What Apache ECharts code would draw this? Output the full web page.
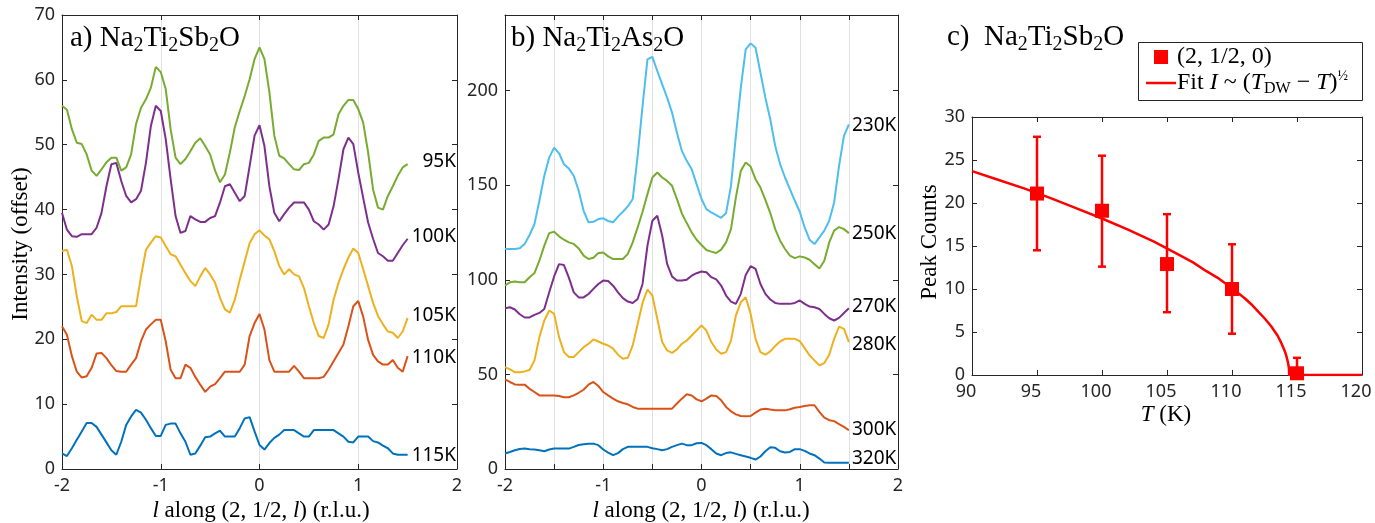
<!DOCTYPE html>
<html><head><meta charset="utf-8">
<script src="https://cdn.jsdelivr.net/npm/echarts@6/dist/echarts.min.js"></script>
<style>html,body{margin:0;padding:0;background:#fff}#c{width:1375px;height:523px}</style>
</head><body><div id="c"></div>
<script>
// ---------- DATA ----------
const lValues = [-2,-1.95,-1.9,-1.85,-1.8,-1.75,-1.7,-1.65,-1.6,-1.55,-1.5,-1.45,-1.4,-1.35,-1.3,-1.25,-1.2,-1.15,-1.1,-1.05,-1,-0.95,-0.9,-0.85,-0.8,-0.75,-0.7,-0.65,-0.6,-0.55,-0.5,-0.45,-0.4,-0.35,-0.3,-0.25,-0.2,-0.15,-0.1,-0.05,0,0.05,0.1,0.15,0.2,0.25,0.3,0.35,0.4,0.45,0.5,0.55,0.6,0.65,0.7,0.75,0.8,0.85,0.9,0.95,1,1.05,1.1,1.15,1.2,1.25,1.3,1.35,1.4,1.45,1.5];

// Panel a) Na2Ti2Sb2O (offset intensities)
const sb95K  = [56.0,55.4,52.4,50.3,50.1,48.5,46.0,45.2,46.2,47.3,48.0,48.0,46.0,46.5,48.5,53.2,55.7,57.0,58.8,62.0,61.2,58.6,52.4,48.0,47.0,47.8,49.0,50.3,51.0,49.8,48.5,46.0,44.2,45.4,48.8,52.7,55.2,57.5,60.1,63.2,65.0,63.2,58.1,51.4,48.3,47.9,47.0,46.2,46.1,47.0,47.2,48.5,50.6,51.1,51.1,51.6,54.7,56.0,56.9,56.9,55.5,53.4,48.8,43.1,40.3,40.0,42.1,43.6,45.2,46.5,47.0];
const sb100K = [39.5,36.9,35.9,35.8,36.2,36.2,36.2,37.2,39.5,43.6,47.0,47.2,44.4,42.1,41.1,41.6,42.9,47.2,52.9,56.0,55.2,50.9,44.7,39.0,36.4,36.7,39.0,38.5,38.1,38.1,38.7,39.0,41.1,43.6,43.9,42.6,41.3,42.1,46.7,51.4,53.0,49.8,43.6,39.5,38.2,39.3,40.3,41.1,41.1,41.1,40.0,38.2,37.7,36.9,37.7,40.5,44.7,49.3,51.1,50.1,45.7,41.8,38.0,35.5,33.3,32.8,32.1,32.1,33.3,34.5,35.5];
const sb105K = [33.6,33.8,31.3,26.6,22.8,22.5,23.8,23.0,23.0,24.0,24.0,24.2,25.1,25.1,25.1,25.1,29.7,33.8,34.9,35.9,35.7,34.4,33.1,32.8,31.5,30.2,29.0,28.2,29.7,31.0,30.0,28.7,26.4,24.6,24.1,26.1,29.2,32.0,34.8,36.2,36.8,36.0,35.4,33.6,31.3,30.0,30.8,30.0,29.7,27.9,25.1,22.5,20.5,20.2,22.3,26.1,28.7,30.8,32.6,34.0,33.3,30.8,28.2,25.6,23.6,22.3,21.2,21.0,20.2,21.2,23.3];
const sb110K = [22.0,20.7,17.4,15.0,14.1,14.3,15.6,17.8,17.9,17.1,16.0,15.1,15.0,15.0,16.1,17.1,19.7,21.5,22.3,23.0,23.0,19.7,15.3,14.0,14.0,16.1,15.6,14.2,13.0,11.9,12.7,13.1,14.0,15.0,15.0,15.0,15.0,16.1,20.5,22.5,23.9,21.5,16.8,15.0,15.0,15.0,15.0,15.9,15.0,14.0,14.0,14.0,14.0,14.2,15.3,16.6,17.9,19.2,22.0,25.1,25.9,23.5,19.9,17.6,16.6,16.1,16.1,16.8,15.6,15.0,17.4];
const sb115K = [2.4,2.0,3.2,4.5,5.8,7.1,7.1,6.5,5.3,4.1,2.9,2.2,4.2,6.8,8.1,9.1,8.7,7.6,6.3,5.1,5.1,6.8,7.0,7.0,5.5,4.2,2.2,2.4,3.6,4.9,5.0,5.5,5.9,5.0,5.0,5.0,6.3,7.8,8.0,5.8,3.7,3.0,4.0,4.8,5.3,6.0,6.0,6.0,5.5,5.0,5.0,6.0,6.0,6.0,6.0,6.0,5.5,5.0,4.2,4.1,5.0,5.0,5.0,4.3,4.1,3.6,3.2,2.4,2.2,2.2,2.2];

// Panel b) Na2Ti2As2O (offset intensities)
const as230K = [116.3,116.3,116.3,116.7,119.0,123.7,129.5,141.8,155.0,164.6,169.9,166.9,161.1,158.8,155.0,147.1,136.5,130.4,130.7,132.1,132.5,131.1,130.4,133.4,136.0,138.8,142.7,165.5,191.9,216.5,217.9,210.4,203.3,196.3,188.4,177.8,168.2,162.9,158.5,150.6,142.7,137.4,135.6,134.2,132.8,135.3,149.7,176.1,201.6,221.8,225.0,222.7,209.5,196.3,184.9,170.8,161.2,154.1,148.0,141.8,136.0,127.7,121.2,118.9,122.4,126.0,131.2,140.9,160.2,176.1,182.2];
const as250K = [97.0,98.7,99.1,98.7,98.7,101.4,103.6,110.1,118.1,124.7,125.4,123.0,121.2,119.8,119.0,116.6,112.8,111.0,111.7,114.2,114.5,112.4,111.0,111.0,111.0,113.7,119.8,127.7,136.0,145.3,154.1,156.7,154.1,152.3,149.7,142.7,135.1,130.0,125.1,121.2,118.4,115.8,114.9,114.2,116.0,119.8,126.8,143.6,157.6,162.0,159.9,153.2,148.8,142.3,135.3,126.8,120.7,116.3,112.8,111.5,112.4,111.8,110.6,108.3,106.0,110.1,119.8,126.0,127.9,126.8,124.7];
const as270K = [85.0,85.5,84.3,81.8,80.1,80.1,81.5,82.5,84.6,93.4,101.8,108.3,107.8,101.2,93.4,90.7,90.7,92.5,95.2,97.8,99.6,99.4,96.9,93.4,90.3,88.5,87.8,89.9,97.8,118.1,131.2,133.9,123.3,108.4,101.8,99.6,99.6,100.1,102.2,103.5,104.4,104.0,101.4,100.2,97.0,91.7,88.5,87.3,92.6,102.6,107.2,105.8,97.8,92.6,89.6,87.8,87.3,87.3,87.3,87.8,89.1,87.3,85.9,85.5,84.6,82.0,79.7,78.5,79.9,82.5,85.0];
const as280K = [53.9,52.7,51.2,51.2,51.6,52.3,57.4,69.7,78.5,83.8,82.0,69.7,61.8,59.2,59.2,61.8,64.4,66.2,68.5,67.4,66.2,65.3,63.6,60.4,58.3,58.8,65.3,76.7,87.8,94.9,91.7,79.4,67.1,62.7,61.4,63.2,66.2,67.9,70.6,73.2,75.9,73.2,67.1,63.2,60.9,61.8,67.9,81.2,88.1,90.8,82.0,68.8,61.8,60.4,62.2,65.0,67.4,68.8,68.8,68.8,67.6,63.9,60.1,57.4,54.8,56.0,60.4,68.8,75.3,74.1,67.1];
const as300K = [47.4,46.0,44.7,44.6,44.6,42.4,40.7,38.9,38.9,38.9,38.9,38.6,37.9,37.9,38.9,40.3,41.9,44.6,46.0,43.9,40.7,38.9,37.2,35.8,34.9,34.2,32.8,31.9,31.9,31.9,31.9,31.9,31.9,31.9,31.9,34.6,37.2,39.5,38.9,36.8,35.8,37.2,38.9,38.6,36.3,32.8,30.5,28.9,28.0,27.9,28.0,29.8,31.4,31.9,31.4,31.0,31.0,31.0,31.6,32.4,32.8,33.3,33.7,33.7,30.2,27.2,25.8,25.3,23.7,22.3,20.5];
const as320K = [8.2,9.0,9.9,10.6,10.8,10.5,10.3,9.9,9.4,10.3,10.8,10.8,10.8,10.8,11.7,12.7,13.1,13.4,13.4,12.6,10.3,8.7,7.3,8.4,10.5,11.7,11.7,11.7,11.7,11.7,11.0,10.5,9.9,10.5,11.7,12.6,13.4,12.6,12.6,13.6,13.8,12.6,10.5,8.2,7.3,8.4,8.8,8.0,7.3,6.6,5.9,5.0,6.6,9.4,11.5,11.2,9.4,8.7,9.0,10.5,10.5,9.6,8.2,7.3,5.5,3.4,3.3,3.3,3.3,3.3,3.3];

// Panel c) peak counts vs temperature
const tempK      = [95, 100, 105, 110, 115];
const peakCounts = [21.1, 19.1, 12.9, 10.0, 0.2];
const errLow     = [14.5, 12.6, 7.3, 4.8, -1.6];
const errHigh    = [27.7, 25.5, 18.7, 15.2, 2.0];
const fitT = [90, 92, 94, 96, 98, 100, 102, 104, 106, 107, 108, 109, 110, 111, 111.5, 112, 112.5, 113, 113.5, 113.8, 114, 114.1, 114.2, 114.3, 114.35, 114.38, 114.4, 120];
const fitI = [23.7, 22.7, 21.7, 20.6, 19.4, 18.2, 16.9, 15.5, 13.9, 13.1, 12.1, 11.2, 10.1, 8.9, 8.2, 7.4, 6.6, 5.7, 4.6, 3.7, 3.0, 2.6, 2.1, 1.5, 1.1, 0.7, 0, 0];

const labelsA = ['95K', '100K', '105K', '110K', '115K'];
const labelsB = ['230K', '250K', '270K', '280K', '300K', '320K'];

// ---------- STYLE ----------
const SERIF = '"Liberation Serif", "Times New Roman", serif';
const SANS = '"Noto Sans", "Open Sans", sans-serif';
const AX = '#262626';
const GRIDC = '#e0e0e0';
const RED = '#ff0000';
const C = {blue:'#0072BD', orange:'#D95319', yellow:'#EDB120', purple:'#7E2F8E', green:'#77AC30', cyan:'#4DBEEE'};

const rich = {
  m: {fontFamily: SERIF, fontSize: 29, lineHeight: 36, color: '#000'},
  s: {fontFamily: SERIF, fontSize: 20, lineHeight: 20, verticalAlign: 'bottom', color: '#000'},
  n: {fontFamily: SERIF, fontSize: 23, lineHeight: 28, color: '#000'},
  i: {fontFamily: SERIF, fontSize: 23, lineHeight: 28, fontStyle: 'italic', color: '#000'},
  ln: {fontFamily: SERIF, fontSize: 24, lineHeight: 28, color: '#000'},
  li: {fontFamily: SERIF, fontSize: 24, lineHeight: 28, fontStyle: 'italic', color: '#000'},
  d: {fontFamily: SERIF, fontSize: 16, lineHeight: 16, verticalAlign: 'bottom', color: '#000'},
  p: {fontFamily: SERIF, fontSize: 14, lineHeight: 14, verticalAlign: 'top', color: '#000'}
};

const isInt = v => Math.abs(v - Math.round(v)) < 1e-6;

function boxAxes(gi, x, y) {
  const tick = {show: true, inside: true, length: 5, lineStyle: {color: AX, width: 1}};
  const line = {show: true, onZero: false, lineStyle: {color: AX, width: 1}};
  const lbl = {color: AX, fontFamily: SANS, fontSize: 18};
  const xa = [
    {type: 'value', gridIndex: gi, position: 'bottom', min: x.min, max: x.max, interval: x.interval,
     axisLine: line, axisTick: tick,
     axisLabel: Object.assign({show: true, margin: 8, showMaxLabel: x.showMax !== false, padding: x.pad || 0, formatter: x.fmt || (v => String(v))}, lbl),
     splitLine: {show: !!x.split, lineStyle: {color: GRIDC, width: 1}}},
    {type: 'value', gridIndex: gi, position: 'top', min: x.min, max: x.max, interval: x.interval,
     axisLine: line, axisTick: tick, axisLabel: {show: false}, splitLine: {show: false}}
  ];
  const ya = [
    {type: 'value', gridIndex: gi, position: 'left', min: y.min, max: y.max, interval: y.interval,
     axisLine: line, axisTick: tick,
     axisLabel: Object.assign({show: true, margin: 7, showMaxLabel: y.showMax !== false}, lbl),
     splitLine: {show: false}},
    {type: 'value', gridIndex: gi, position: 'right', min: y.min, max: y.max, interval: y.interval,
     axisLine: line, axisTick: tick, axisLabel: {show: false}, splitLine: {show: false}}
  ];
  return {xa, ya};
}

const A = boxAxes(0, {min: -2, max: 2, interval: 1, split: true}, {min: 0, max: 70, interval: 10});
const B = boxAxes(1, {min: -2, max: 2, interval: 0.5, split: true, fmt: v => isInt(v) ? String(Math.round(v)) : ''}, {min: 0, max: 240, interval: 50, showMax: false});
const Cx = boxAxes(2, {min: 90, max: 120, interval: 5, pad: [0, 12, 0, 0]}, {min: 0, max: 30, interval: 5});

const zip = (xs, ys) => xs.map((v, k) => [v, ys[k]]);

function curve(vals, color, xi, yi) {
  return {type: 'line', xAxisIndex: xi, yAxisIndex: yi, data: zip(lValues, vals),
    symbol: 'none', showSymbol: false, smooth: false, animation: false,
    lineStyle: {color: color, width: 2}, itemStyle: {color: color}};
}

const series = [
  curve(sb115K, C.blue, 0, 0),
  curve(sb110K, C.orange, 0, 0),
  curve(sb105K, C.yellow, 0, 0),
  curve(sb100K, C.purple, 0, 0),
  curve(sb95K, C.green, 0, 0),
  curve(as320K, C.blue, 2, 2),
  curve(as300K, C.orange, 2, 2),
  curve(as280K, C.yellow, 2, 2),
  curve(as270K, C.purple, 2, 2),
  curve(as250K, C.green, 2, 2),
  curve(as230K, C.cyan, 2, 2),
  {type: 'line', xAxisIndex: 4, yAxisIndex: 4, data: zip(fitT, fitI), symbol: 'none', showSymbol: false,
   animation: false, lineStyle: {color: RED, width: 2.5, join: 'round'}, itemStyle: {color: RED}, z: 3},
  {type: 'custom', xAxisIndex: 4, yAxisIndex: 4, clip: true, animation: false, z: 4,
   data: tempK.map((t, k) => [t, errLow[k], errHigh[k]]),
   encode: {x: 0, y: [1, 2]},
   renderItem: function (params, api) {
     const t = api.value(0), lo = api.value(1), hi = api.value(2);
     const pH = api.coord([t, hi]), pL = api.coord([t, lo]);
     const w = 4, st = {stroke: RED, lineWidth: 2.5};
     return {type: 'group', children: [
       {type: 'line', shape: {x1: pH[0], y1: pH[1], x2: pL[0], y2: pL[1]}, style: st},
       {type: 'line', shape: {x1: pH[0] - w, y1: pH[1], x2: pH[0] + w, y2: pH[1]}, style: st},
       {type: 'line', shape: {x1: pL[0] - w, y1: pL[1], x2: pL[0] + w, y2: pL[1]}, style: st}
     ]};
   }},
  {type: 'scatter', xAxisIndex: 4, yAxisIndex: 4, data: zip(tempK, peakCounts), symbol: 'rect',
   symbolSize: 14, animation: false, itemStyle: {color: RED, opacity: 1}, z: 5}
];

function txt(x, y, text, align, rotation) {
  const el = {type: 'text', x: x, y: y, z: 100,
    style: {text: text, rich: rich, align: align || 'left', verticalAlign: 'middle', fill: '#000'}};
  if (rotation) el.rotation = rotation;
  return el;
}
function plain(x, y, text, align) {
  return {type: 'text', x: x, y: y, z: 100,
    style: {text: text, font: '19px ' + SANS, fill: '#000', align: align, verticalAlign: 'middle'}};
}

const labelPosA = [[456, 162], [456, 237], [456, 316], [456, 358], [456, 456]];
const labelPosB = [[852, 126], [852, 234], [852, 307], [852, 345], [852, 430], [852, 459]];
const xName = '{i|l}{n| along (2, 1/2, }{i|l}{n|) (r.l.u.)}';

const graphic = [
  txt(70, 38, '{m|a) Na}{s|2}{m|Ti}{s|2}{m|Sb}{s|2}{m|O}'),
  txt(511, 38, '{m|b) Na}{s|2}{m|Ti}{s|2}{m|As}{s|2}{m|O}'),
  txt(947, 37, '{m|c)  Na}{s|2}{m|Ti}{s|2}{m|Sb}{s|2}{m|O}'),
  txt(21, 244, '{n|Intensity (offset)}', 'center', Math.PI / 2),
  txt(261, 511, xName, 'center'),
  txt(701, 511, xName, 'center'),
  txt(930, 242, '{n|Peak Counts}', 'center', Math.PI / 2),
  txt(1166, 415, '{i|T}{n| (K)}', 'center'),
  // legend of panel c
  {type: 'rect', z: 90, shape: {x: 1138.5, y: 42.5, width: 224, height: 58}, style: {fill: '#fff', stroke: AX, lineWidth: 1}},
  {type: 'rect', z: 100, shape: {x: 1154, y: 50, width: 14, height: 14}, style: {fill: RED}},
  {type: 'line', z: 100, shape: {x1: 1146, y1: 83, x2: 1176, y2: 83}, style: {stroke: RED, lineWidth: 2.5}},
  txt(1177, 57, '{ln|(2, 1/2, 0)}'),
  txt(1177, 83, '{ln|Fit }{li|I}{ln| ~ (}{li|T}{d|DW}{ln| − }{li|T}{ln|)}{p|½}')
];
labelsA.forEach((s, k) => graphic.push(plain(labelPosA[k][0], labelPosA[k][1], s, 'right')));
labelsB.forEach((s, k) => graphic.push(plain(labelPosB[k][0], labelPosB[k][1], s, 'left')));

const option = {
  animation: false,
  backgroundColor: '#fff',
  grid: [
    {left: 62, top: 15, width: 395, height: 454, outerBoundsMode: 'none', containLabel: false},
    {left: 505, top: 15, width: 393, height: 454, outerBoundsMode: 'none', containLabel: false},
    {left: 972, top: 117, width: 390, height: 258, outerBoundsMode: 'none', containLabel: false}
  ],
  xAxis: [...A.xa, ...B.xa, ...Cx.xa],
  yAxis: [...A.ya, ...B.ya, ...Cx.ya],
  series: series,
  graphic: graphic
};

const chart = echarts.init(document.getElementById('c'), null, {renderer: 'canvas'});
chart.setOption(option);
</script>
</body></html>
